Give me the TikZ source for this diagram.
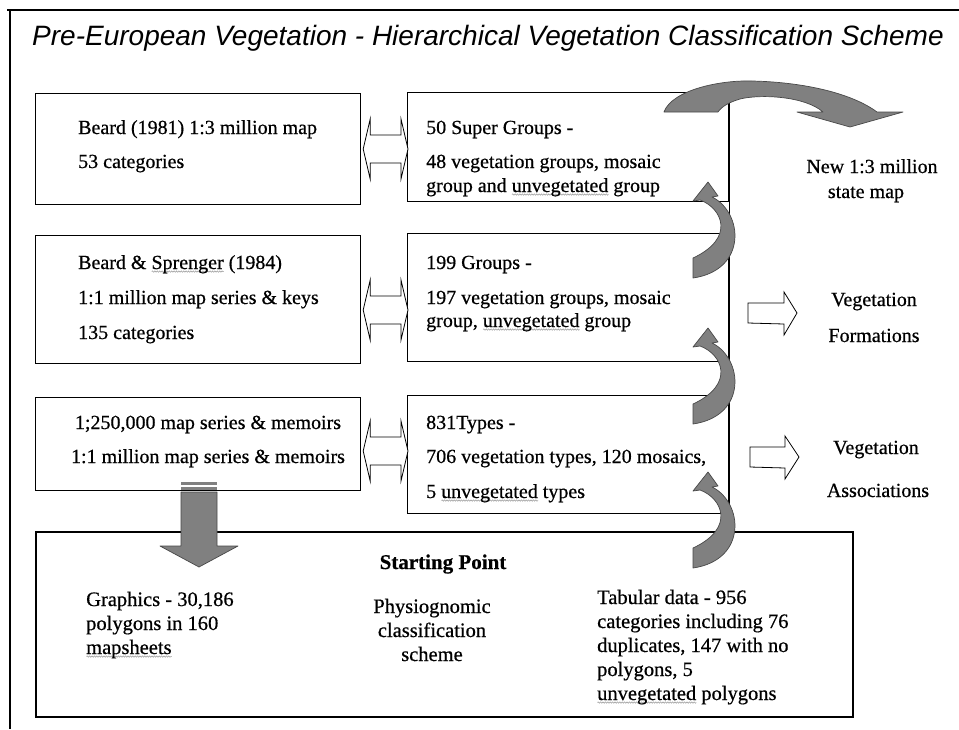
\documentclass[tikz,border=0pt]{standalone}
\usepackage{fontspec}
\setmainfont{Liberation Serif}[FakeBold=0.6]
\newfontfamily\titlefont{Liberation Sans}
\usetikzlibrary{calc,decorations.pathmorphing}

% grey wavy underline as left by a spell checker
\newsavebox\wavebox
\newcommand\spellwave[1]{\sbox\wavebox{#1}%
  \rlap{\raisebox{-3.5pt}{\tikz\draw[black!40, line width=0.5pt, decorate,
    decoration={snake, amplitude=0.7pt, segment length=2.4pt}] (0pt,0pt) -- (\wd\wavebox,0pt);}}%
  \usebox\wavebox}

\definecolor{arrowgray}{RGB}{128,128,128}
\definecolor{arrowedge}{RGB}{72,72,72}

\newcommand\boxfont{\fontsize{20}{23}\selectfont}
\newcommand\startfont{\fontsize{20.5}{23}\selectfont}

\tikzset{
  panel/.style={draw=black, line width=1.2pt, fill=white, inner sep=0pt, anchor=north west},
  tl/.style={font=\boxfont, inner sep=0pt, anchor=base west},
  tc/.style={font=\boxfont, inner sep=0pt, anchor=base},
  sl/.style={font=\startfont, inner sep=0pt, anchor=base west},
  sc/.style={font=\startfont, inner sep=0pt, anchor=base},
  twoway/.style={draw=black, line width=0.8pt, fill=white, line join=miter},
  oneway/.style={draw=black, line width=0.8pt, fill=white, line join=miter},
  greyarrow/.style={fill=arrowgray, draw=arrowedge, line width=0.7pt, line join=round},
  uparc/.pic={
    \path[greyarrow] (0,0) -- (10,14) -- (4,15)
      .. controls (35,30) and (40,88) .. (-15,96) -- (-15,76)
      .. controls (28,56) and (14,26) .. (-8,18) -- (-15,19) -- cycle;
  }
}

% white double-headed block arrow between two panels at height #3
\newcommand\twowayarrow[3]{%
  \path ($(#1.east |- 0,#3)+(2,0)$) coordinate (#1-a)
        ($(#2.west |- 0,#3)+(1,0)$) coordinate (#2-b);
  \draw[twoway] (#1-a) -- ++(7,-30) -- ++(0,16) -- ($(#2-b)+(-7,-14)$)
    -- ($(#2-b)+(-7,-30)$) -- (#2-b) -- ($(#2-b)+(-7,30)$) -- ($(#2-b)+(-7,14)$)
    -- ($(#1-a)+(7,14)$) -- ($(#1-a)+(7,30)$) -- cycle;
}

\begin{document}
\begin{tikzpicture}[x=1pt, y=-1pt]
\useasboundingbox (0,0) rectangle (959,729);
\fill[white] (0,0) rectangle (959,729);

% frame
\draw[line width=2.4pt] (7,10) -- (959,10);
\draw[line width=1.8pt] (10,9) -- (10,729);

% title
\node[font=\titlefont\itshape\fontsize{28}{31}\selectfont, inner sep=0pt, anchor=base]
  (title) at (488,45) {Pre-European Vegetation - Hierarchical Vegetation Classification Scheme};

% panels
\node[panel, minimum width=325pt, minimum height=111pt] (L1) at (35,93) {};
\node[panel, minimum width=325pt, minimum height=128pt] (L2) at (35,235) {};
\node[panel, minimum width=325pt, minimum height=93pt]  (L3) at (35,397) {};
\node[panel, minimum width=321pt, minimum height=109pt] (M1) at (407,92) {};
\node[panel, minimum width=321pt, minimum height=128pt] (M2) at (407,233) {};
\node[panel, minimum width=321pt, minimum height=118pt] (M3) at (407,395) {};
\node[panel, minimum width=817pt, minimum height=185pt, line width=1.5pt] (S) at (35,531) {};
\draw[line width=1.2pt] (M1.north east) -- (M3.south east);

% panel texts
\node[tl] (l1a) at (78,134) {Beard (1981) 1:3 million map};
\node[tl] (l1b) at (78,168) {53 categories};
\node[tl] (m1a) at (426,134) {50 Super Groups -};
\node[tl] (m1b) at (426,168) {48 vegetation groups, mosaic};
\node[tl] (m1c) at (426,192) {group and \spellwave{unvegetated} group};

\node[tl] (l2a) at (78,269) {Beard \& \spellwave{Sprenger} (1984)};
\node[tl] (l2b) at (78,304) {1:1 million map series \& keys};
\node[tl] (l2c) at (78,339) {135 categories};
\node[tl] (m2a) at (426,269) {199 Groups -};
\node[tl] (m2b) at (426,304) {197 vegetation groups, mosaic};
\node[tl] (m2c) at (426,327) {group, \spellwave{unvegetated} group};

\node[tc] (l3a) at (208,429) {1;250,000 map series \& memoirs};
\node[tc] (l3b) at (208,463) {1:1 million map series \& memoirs};
\node[tl] (m3a) at (426,429) {831Types -};
\node[tl] (m3b) at (426,463) {706 vegetation types, 120 mosaics,};
\node[tl] (m3c) at (426,498) {5 \spellwave{unvegetated} types};

% right-hand outputs
\node[tc] (out1a) at (872,173) {New 1:3 million};
\node[tc] (out1b) at (866,198) {state map};
\node[tc] (out2a) at (874,306) {Vegetation};
\node[tc] (out2b) at (874,342) {Formations};
\node[tc] (out3a) at (876,454) {Vegetation};
\node[tc] (out3b) at (878,497) {Associations};

% starting point panel
\node[font=\bfseries\fontsize{21}{24}\selectfont, inner sep=0pt, anchor=base] (sp) at (443,569) {Starting Point};
\node[sl] (g1) at (86,606) {Graphics - 30,186};
\node[sl] (g2) at (86,630) {polygons in 160};
\node[sl] (g3) at (86,654) {\spellwave{mapsheets}};
\node[sc] (p1) at (432,613) {Physiognomic};
\node[sc] (p2) at (432,637) {classification};
\node[sc] (p3) at (432,661) {scheme};
\node[sl] (t1) at (597,604) {Tabular data - 956};
\node[sl] (t2) at (597,628) {categories including 76};
\node[sl] (t3) at (597,652) {duplicates, 147 with no};
\node[sl] (t4) at (597,676) {polygons, 5};
\node[sl] (t5) at (597,700) {\spellwave{unvegetated} polygons};

% two-way links between source maps and hierarchy levels
\twowayarrow{L1}{M1}{149}
\twowayarrow{L2}{M2}{310}
\twowayarrow{L3}{M3}{451}

% one-way links to the outputs
\coordinate (f0) at (748,313);
\coordinate (a0) at (750,457);
\draw[oneway] ($(f0)+(0,-10)$) -- ++(36,0) -- ++(0,-11) -- ($(f0)+(49,0)$)
  -- ($(f0)+(36,22)$) -- ++(0,-11) -- ($(f0)+(0,10)$) -- cycle;
\draw[oneway] ($(a0)+(0,-10)$) -- ++(35,0) -- ++(0,-11) -- ($(a0)+(49,0)$)
  -- ($(a0)+(35,22)$) -- ++(0,-11) -- ($(a0)+(0,10)$) -- cycle;

% grey striped arrow from the source maps down to the starting point
\fill[arrowgray] (181,482) rectangle (217,484.5);
\fill[arrowgray] (181,487) rectangle (217,490);
\path[greyarrow] (181,492) -- (217,492) -- (217,546) -- (238,546) -- (199,567)
  -- (160,546) -- (181,546) -- cycle;

% grey curved arrows climbing the hierarchy
\pic (up3) at (708,472) {uparc};
\pic (up2) at (708,328) {uparc};
\pic (up1) at (708,182) {uparc};

% grey arc from the super groups to the new state map
\path[greyarrow] (664,112) .. controls (672,90) and (720,80) .. (752,81)
  .. controls (800,82) and (850,92) .. (877,112) -- (903,112) -- (850,127) -- (797,112)
  -- (823,112) .. controls (805,96) and (760,94) .. (740,99)
  .. controls (730,102) and (722,106) .. (718,112) -- cycle;
\end{tikzpicture}
\end{document}
